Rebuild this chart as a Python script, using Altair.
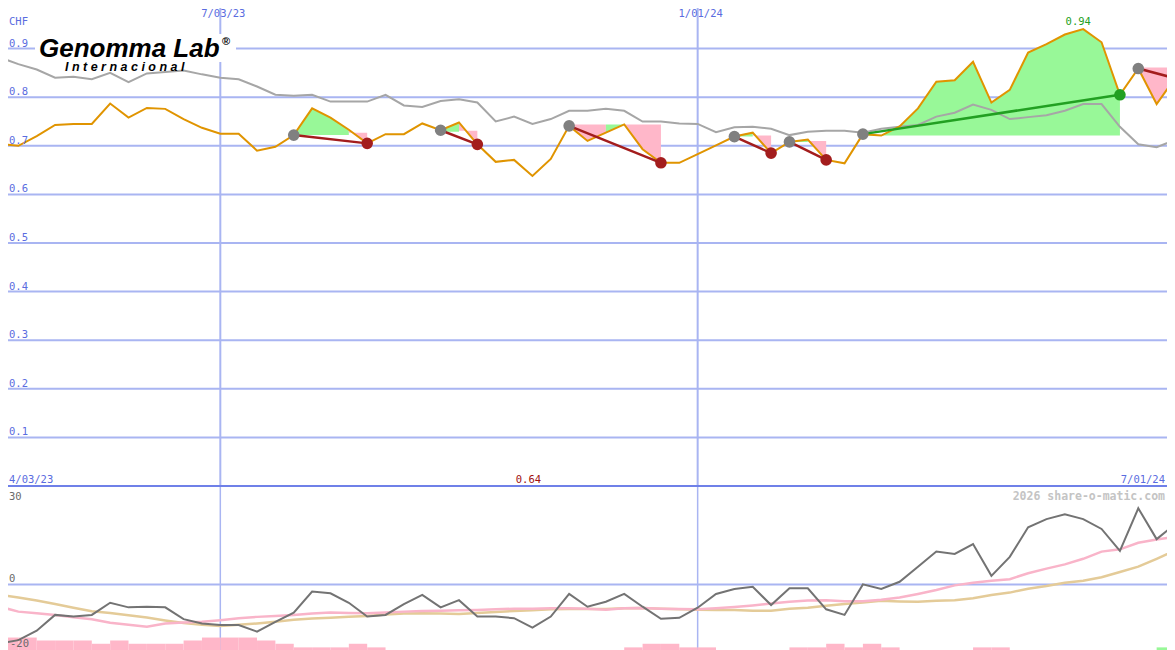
import altair as alt
import pandas as pd

# ---------------- data ----------------
dates = pd.date_range("2023-04-10", periods=65, freq="7D").strftime("%Y-%m-%d").tolist()

price = [0.704, 0.700, 0.720, 0.743, 0.745, 0.745, 0.787, 0.758, 0.778, 0.776,
         0.755, 0.737, 0.725, 0.725, 0.690, 0.698, 0.722, 0.777, 0.758, 0.733,
         0.705, 0.724, 0.724, 0.746, 0.732, 0.748, 0.703, 0.667, 0.671, 0.638,
         0.673, 0.741, 0.710, 0.727, 0.744, 0.693, 0.665, 0.665, 0.683, 0.701,
         0.719, 0.727, 0.685, 0.708, 0.713, 0.671, 0.664, 0.724, 0.721, 0.740,
         0.777, 0.832, 0.835, 0.873, 0.789, 0.815, 0.892, 0.909, 0.929, 0.940,
         0.913, 0.805, 0.859, 0.786, 0.839]

avg = [0.882, 0.868, 0.857, 0.840, 0.842, 0.837, 0.850, 0.831, 0.849, 0.852,
       0.855, 0.847, 0.840, 0.837, 0.822, 0.805, 0.803, 0.805, 0.791, 0.791,
       0.791, 0.805, 0.783, 0.780, 0.792, 0.796, 0.789, 0.750, 0.760, 0.745,
       0.755, 0.772, 0.772, 0.776, 0.772, 0.750, 0.750, 0.746, 0.745, 0.728,
       0.738, 0.739, 0.735, 0.722, 0.729, 0.731, 0.731, 0.727, 0.735, 0.739,
       0.743, 0.760, 0.768, 0.785, 0.774, 0.755, 0.759, 0.763, 0.772, 0.786,
       0.786, 0.739, 0.703, 0.697, 0.712]

osc = [-18.0, -17.0, -14.1, -9.3, -9.8, -9.3, -5.6, -7.0, -6.8, -7.0,
       -10.6, -11.9, -12.4, -12.4, -14.4, -11.4, -8.6, -2.2, -2.7, -5.6,
       -9.8, -9.3, -6.0, -3.2, -7.0, -4.8, -9.8, -9.8, -10.3, -13.2,
       -9.8, -2.9, -6.8, -5.3, -2.9, -6.8, -10.5, -10.2, -7.1, -2.9,
       -1.4, -0.7, -6.3, -1.2, -1.2, -7.6, -9.3, 0.0, -1.4, 0.8,
       5.4, 10.0, 9.3, 12.3, 2.6, 8.4, 17.4, 19.9, 21.4, 19.9,
       16.9, 10.2, 23.2, 13.8, 18.3]

osc_pink = [-6.8, -8.3, -8.8, -9.3, -10.0, -10.6, -11.7, -12.3, -12.9, -11.9,
            -11.6, -11.4, -10.9, -10.3, -9.9, -9.6, -9.3, -8.9, -8.6, -8.7,
            -8.8, -8.6, -8.3, -8.1, -8.0, -7.9, -7.8, -7.6, -7.4, -7.4,
            -7.3, -7.3, -7.4, -7.7, -7.3, -7.2, -7.4, -7.5, -7.6, -7.3,
            -6.9, -6.4, -5.8, -5.3, -4.9, -4.8, -5.1, -5.1, -4.7, -4.0,
            -2.9, -1.7, -0.3, 0.5, 1.1, 1.6, 3.4, 4.8, 6.1, 7.8,
            10.0, 10.7, 12.7, 13.7, 14.5]

osc_tan = [-3.2, -4.0, -4.9, -6.0, -7.1, -8.2, -8.7, -9.4, -10.1, -11.0,
           -11.8, -12.3, -12.7, -12.3, -11.9, -11.4, -10.8, -10.4, -10.2, -9.9,
           -9.6, -9.2, -8.9, -8.8, -8.9, -9.0, -8.7, -8.4, -8.1, -7.9,
           -7.6, -7.5, -7.5, -7.5, -7.3, -7.2, -7.4, -7.6, -7.7, -7.8,
           -7.8, -8.0, -8.0, -7.4, -7.1, -6.5, -6.0, -5.5, -5.0, -5.2,
           -5.3, -5.0, -4.8, -4.2, -3.2, -2.5, -1.3, -0.5, 0.5, 1.1,
           2.2, 3.8, 5.4, 7.8, 10.3]

# weekly histogram (negative = pink, positive = green), bar k spans week k..k+1
hist = [-3.8, -3.8, -2.9, -2.9, -2.9, -1.9, -2.9, -1.9, -1.9, -1.9,
        -2.9, -3.8, -3.8, -3.8, -2.9, -1.9, -0.8, -0.8, -0.8, -1.9,
        -0.8, 0, 0, 0, 0, 0, 0, 0, 0, 0,
        0, 0, 0, 0, -0.8, -1.9, -1.9, -0.8, -0.8, 0,
        0, 0, 0, -0.8, -0.8, -1.9, -0.8, -1.9, -0.8, 0,
        0, 0, 0, -0.8, -0.8, 0, 0, 0, 0, 0,
        0, 0, 0, 0.8]

# trades
trade_entry = [16, 24, 31, 40, 43, 47, 62]
trade_exit = [20, 26, 36, 42, 45, 61, 64]
trade_result = ["loss", "loss", "loss", "loss", "loss", "win", "open"]

# shaded regions of the trades
seg_start = [16, 19, 24, 25, 31, 33, 34, 40, 41, 43, 44, 47, 62]
seg_end = [19, 20, 25, 26, 33, 34, 36, 41, 42, 44, 45, 61, 64]
seg_level = [0.722, 0.727, 0.729, 0.731, 0.744, 0.744, 0.744, 0.719, 0.721, 0.708, 0.710, 0.721, 0.861]
seg_color = ["g", "p", "g", "p", "p", "g", "p", "g", "p", "g", "p", "g", "p"]

grid_values = [0.1, 0.2, 0.3, 0.4, 0.5, 0.6, 0.7, 0.8, 0.9, 1.0]
tick_values = [0.1, 0.2, 0.3, 0.4, 0.5, 0.6, 0.7, 0.8, 0.9]
tick_labels = ["0.1", "0.2", "0.3", "0.4", "0.5", "0.6", "0.7", "0.8", "0.9"]
vline_dates = ["2023-07-03", "2024-01-01"]
vline_labels = ["7/03/23", "1/01/24"]
start_label = "4/03/23"
end_label = "7/01/24"
osc_ticks = ["30", "0", "-20"]

# ---------------- style ----------------
W, HT, HB = 1175, 486, 164
GRID = "#a9b5f2"
BASE = "#6f80e8"
BLUE = "#5a6ce0"
MONO = "DejaVu Sans Mono"
ORANGE = "#e09400"
GRAYL = "#a6a6a6"
RED = "#a31d1d"
GREEN = "#22a022"
GFILL = "#98f898"
PFILL = "#ffb7c9"
FILL_COL = {"g": GFILL, "p": PFILL}
TRADE_COL = {"loss": RED, "win": GREEN, "open": RED}
MARK_COL = {"entry": "#808080", "loss": RED, "win": GREEN}
LX = 9          # left text inset (the page margin hides x < 8)
RX = 1165       # right text edge

xs = alt.Scale(type="utc", domain=[alt.DateTime(year=2023, month=4, date=10, utc=True),
                                   alt.DateTime(year=2024, month=7, date=1, utc=True)])
ty = alt.Scale(domain=[0, 1], nice=False, zero=False)
by = alt.Scale(domain=[-20, 30], nice=False, zero=False)


def X(f="date"):
    return alt.X(f"{f}:T", scale=xs, axis=None)


def TY(f):
    return alt.Y(f"{f}:Q", scale=ty, axis=None, stack=None)


def BY(f):
    return alt.Y(f"{f}:Q", scale=by, axis=None, stack=None)


def COL(f):
    return alt.Color(f"{f}:N", scale=None, legend=None)


one = pd.DataFrame({"a": [0]})

df = pd.DataFrame({"date": dates, "price": price, "avg": avg,
                   "osc": osc, "op": osc_pink, "ot": osc_tan})

rows = []
for s, (a, b, lv, c) in enumerate(zip(seg_start, seg_end, seg_level, seg_color)):
    for i in range(a, b + 1):
        rows.append({"date": dates[i], "p": price[i], "lv": lv, "seg": s, "col": FILL_COL[c]})
fill_df = pd.DataFrame(rows)

trows, mrows = [], []
for t, (a, b, r) in enumerate(zip(trade_entry, trade_exit, trade_result)):
    trows.append({"date": dates[a], "p": price[a], "t": t, "col": TRADE_COL[r]})
    trows.append({"date": dates[b], "p": price[b], "t": t, "col": TRADE_COL[r]})
    mrows.append({"date": dates[a], "p": price[a], "col": MARK_COL["entry"]})
    if r != "open":
        mrows.append({"date": dates[b], "p": price[b], "col": MARK_COL[r]})
trade_df = pd.DataFrame(trows)
mark_df = pd.DataFrame(mrows)

imin = price.index(min(price))
imax = price.index(max(price))
ext_df = pd.DataFrame({"date": [dates[imin]], "t": [f"{min(price):.2f}"]})
ext2_df = pd.DataFrame({"date": [dates[imax]], "t": [f"{max(price):.2f}"]})

# ---------------- top panel ----------------
grid = alt.Chart(pd.DataFrame({"v": grid_values})).mark_rule(color=GRID, strokeWidth=2, clip=True).encode(y=TY("v"))
base = alt.Chart(pd.DataFrame({"v": [0]})).mark_rule(color=BASE, strokeWidth=2, clip=True).encode(y=TY("v"))
vdf = pd.DataFrame({"date": vline_dates, "t": vline_labels})
vlines = alt.Chart(vdf).mark_rule(color=GRID, strokeWidth=2, clip=True).encode(x=X())
logo_box = alt.Chart(one).mark_rect(color="white").encode(
    x=alt.value(35), x2=alt.value(236), y=alt.value(34), y2=alt.value(62))

fills = alt.Chart(fill_df).mark_area(clip=True, opacity=1).encode(
    x=X(), y=TY("p"), y2="lv:Q", detail="seg:N", color=COL("col"))

avg_line = alt.Chart(df).mark_line(color=GRAYL, strokeWidth=2, clip=True).encode(x=X(), y=TY("avg"))
price_line = alt.Chart(df).mark_line(color=ORANGE, strokeWidth=2, clip=True).encode(x=X(), y=TY("price"))

trade_lines = alt.Chart(trade_df).mark_line(strokeWidth=2.5, clip=True).encode(
    x=X(), y=TY("p"), detail="t:N", color=COL("col"))

markers = alt.Chart(mark_df).mark_circle(size=135, opacity=1, clip=True).encode(
    x=X(), y=TY("p"), color=COL("col"))

ticks = alt.Chart(pd.DataFrame({"v": tick_values, "t": tick_labels})).mark_text(
    align="left", baseline="alphabetic", dy=-2, font=MONO, fontSize=10.5, color=BLUE).encode(
    x=alt.value(LX), y=TY("v"), text="t:N")
chf = alt.Chart(one).mark_text(align="left", baseline="alphabetic", font=MONO, fontSize=10.5, color=BLUE,
                               text="CHF").encode(x=alt.value(LX), y=alt.value(25))
vlabels = alt.Chart(vdf).mark_text(align="center", baseline="alphabetic", dx=3, font=MONO, fontSize=10.5,
                                   color=BLUE).encode(x=X(), y=alt.value(17), text="t:N")
start_txt = alt.Chart(one).mark_text(align="left", baseline="alphabetic", font=MONO, fontSize=10.5, color=BLUE,
                                     text=start_label).encode(x=alt.value(LX), y=alt.value(483))
end_txt = alt.Chart(one).mark_text(align="right", baseline="alphabetic", font=MONO, fontSize=10.5, color=BLUE,
                                   text=end_label).encode(x=alt.value(RX), y=alt.value(483))
min_txt = alt.Chart(ext_df).mark_text(align="center", baseline="alphabetic", dx=-4, font=MONO, fontSize=10.5,
                                      color="#a01010").encode(x=X(), y=alt.value(483), text="t:N")
max_txt = alt.Chart(ext2_df).mark_text(align="center", baseline="alphabetic", dx=-5, font=MONO, fontSize=10.5,
                                       color=GREEN).encode(x=X(), y=alt.value(25), text="t:N")

logo1 = alt.Chart(one).mark_text(align="left", baseline="alphabetic", font="Liberation Sans", fontSize=26,
                                 fontWeight="bold", fontStyle="italic", color="black",
                                 text="Genomma Lab").encode(x=alt.value(39), y=alt.value(57))
logo_r = alt.Chart(one).mark_text(align="left", baseline="alphabetic", font="Liberation Sans", fontSize=11,
                                  fontWeight="bold", color="black",
                                  text="®").encode(x=alt.value(222), y=alt.value(45))
logo2 = alt.Chart(one).mark_text(align="left", baseline="alphabetic", font="Liberation Sans", fontSize=12.5,
                                 fontWeight="bold", fontStyle="italic", color="black",
                                 text=" ".join("Internacional")).encode(x=alt.value(65), y=alt.value(71))

top = alt.layer(grid, vlines, base, logo_box, fills, avg_line, price_line, trade_lines, markers,
                ticks, chf, vlabels, start_txt, end_txt, min_txt, max_txt, logo1, logo_r, logo2
                ).properties(width=W, height=HT)

# ---------------- bottom panel ----------------
hrows = []
for k, h in enumerate(hist):
    if h != 0:
        hrows.append({"d0": dates[k], "d1": dates[k + 1], "y0": -20, "y1": -20 + abs(h),
                      "col": GFILL if h > 0 else PFILL})
hist_df = pd.DataFrame(hrows)

b_vlines = alt.Chart(vdf).mark_rule(color=GRID, strokeWidth=1.5, clip=True).encode(x=X())
b_zero = alt.Chart(pd.DataFrame({"v": [0]})).mark_rule(color=GRID, strokeWidth=2, clip=True).encode(y=BY("v"))
b_top = alt.Chart(pd.DataFrame({"v": [30]})).mark_rule(color=BASE, strokeWidth=2, clip=True).encode(y=BY("v"))
bars = alt.Chart(hist_df).mark_rect(clip=True).encode(
    x=X("d0"), x2="d1:T", y=BY("y0"), y2="y1:Q", color=COL("col"))
tan_line = alt.Chart(df).mark_line(color="#e4cb98", strokeWidth=2.5, clip=True).encode(x=X(), y=BY("ot"))
pink_line = alt.Chart(df).mark_line(color="#f9b4c9", strokeWidth=2.5, clip=True).encode(x=X(), y=BY("op"))
osc_line = alt.Chart(df).mark_line(color="#737373", strokeWidth=2, clip=True).encode(x=X(), y=BY("osc"))

b_labels = alt.Chart(pd.DataFrame({"t": osc_ticks, "px": [13.5, 95.5, 160.5], "x": [LX, LX, LX + 1]})).mark_text(
    align="left", baseline="alphabetic", font=MONO, fontSize=10.5, color="#6a6a6a").encode(
    x=alt.X("x:Q", scale=None), y=alt.Y("px:Q", scale=None), text="t:N")
credit = alt.Chart(one).mark_text(align="right", baseline="alphabetic", font=MONO, fontSize=11.5,
                                  fontWeight="bold", color="#c4c4c4",
                                  text="2026 share-o-matic.com").encode(x=alt.value(RX), y=alt.value(14))

bottom = alt.layer(b_vlines, b_zero, b_top, bars, tan_line, pink_line, osc_line, b_labels, credit
                   ).properties(width=W, height=HB)

chart = alt.vconcat(top, bottom, spacing=0).properties(
    padding={"left": -8, "top": -8, "right": -8, "bottom": 0},
    background="white",
).configure_view(stroke=None).configure_concat(spacing=0)

chart.save("out.html", embed_options={"renderer": "svg", "actions": False})
